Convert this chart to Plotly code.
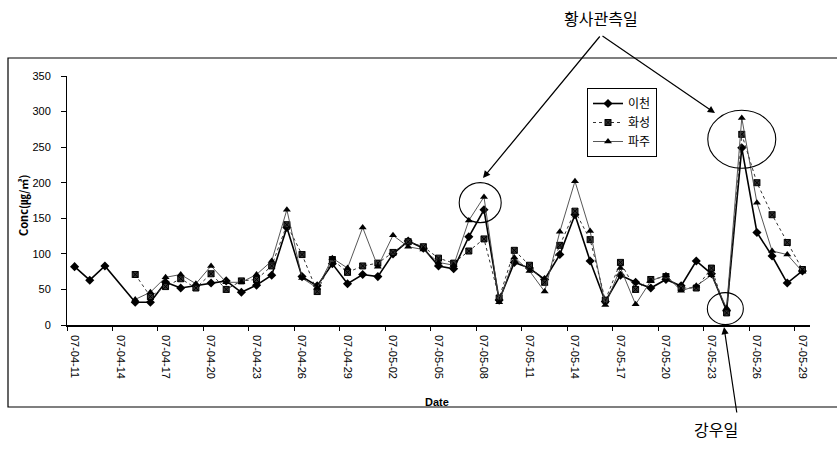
import plotly.graph_objects as go
import pandas as pd

# Daily PM concentrations at three sites (spring 2007)
dates = ["2007-04-11", "2007-04-12", "2007-04-13"] + [
    d.strftime("%Y-%m-%d") for d in pd.date_range("2007-04-15", "2007-05-29")
]

icheon = [82, 63, 83,
          32, 32, 60, 52, 55, 59, 62, 46, 56, 70, 137, 68, 55, 86, 58, 71, 68,
          100, 118, 108, 83, 79, 124, 162, 35, 88, 80, 64, 99, 155, 90, 33, 70,
          60, 52, 64, 55, 90, 72, 20, 249, 130, 97, 59, 76]
hwaseong = [None, None, None,
            71, 40, 54, 65, 52, 72, 50, 62, 64, 83, 141, 99, 47, 92, 74, 83, 87,
            102, 117, 110, 94, 87, 104, 121, 38, 105, 84, 60, 112, 160, 120, 35, 88,
            50, 64, 68, 52, 52, 80, 17, 268, 200, 155, 116, 78]
paju = [None, None, None,
        36, 46, 67, 71, 58, 83, 60, 60, 71, 90, 162, 66, 52, 94, 80, 137, 82,
        126, 110, 106, 88, 84, 147, 180, 32, 95, 76, 47, 131, 202, 132, 28, 80,
        29, 62, 70, 48, 55, 70, 24, 291, 172, 104, 99, 75]

tick_dates = [d.strftime("%Y-%m-%d") for d in pd.date_range("2007-04-11", "2007-05-29", freq="3D")]
y_ticks = [0, 50, 100, 150, 200, 250, 300, 350]

W, H = 837, 451
L, R, T, B = 67, 810, 76, 325  # plot area in pixels


def px(x):
    return (x - L) / (R - L)


def py(y):
    return (B - y) / (B - T)


fig = go.Figure()
fig.add_trace(go.Scatter(
    x=dates, y=icheon, name="이천", mode="lines+markers",
    line=dict(color="black", width=1.6),
    marker=dict(symbol="diamond", size=7, color="black"),
))
fig.add_trace(go.Scatter(
    x=dates, y=hwaseong, name="화성", mode="lines+markers",
    line=dict(color="#333333", width=1, dash="dot"),
    marker=dict(symbol="square-x", size=6, color="#333333",
                line=dict(color="black", width=1)),
))
fig.add_trace(go.Scatter(
    x=dates, y=paju, name="파주", mode="lines+markers",
    line=dict(color="#444444", width=0.9),
    marker=dict(symbol="triangle-up", size=7, color="black"),
))

font_lat = "Liberation Sans, Arial, sans-serif"
font_kr = "Noto Sans CJK KR, sans-serif"

shapes = [
    # outer chart frame
    dict(type="rect", xref="paper", yref="paper",
         x0=px(8), x1=px(845), y0=py(407), y1=py(58),
         line=dict(color="black", width=1.2), layer="below"),
]


def ellipse(date, val, rx, ry):
    return dict(type="circle", xref="x", yref="y",
                xsizemode="pixel", ysizemode="pixel",
                xanchor=date, yanchor=val,
                x0=-rx, x1=rx, y0=-ry, y1=ry,
                line=dict(color="black", width=1.1))


shapes += [
    ellipse("2007-05-07 18:00", 172, 21, 20),
    ellipse("2007-05-25", 261, 34, 29),
    ellipse("2007-05-23 22:00", 23, 18, 16),
]


def arrow(head, tail):
    # arrow drawn from tail (pixel position) to head (pixel position)
    return dict(text="", xref="paper", yref="paper", x=px(head[0]), y=py(head[1]),
                ax=tail[0] - head[0], ay=tail[1] - head[1],
                showarrow=True, arrowhead=2, arrowsize=1.2, arrowwidth=1.2,
                arrowcolor="black")


def label(text, x, y, family, size, angle=0):
    return dict(text=text, xref="paper", yref="paper", x=px(x), y=py(y),
                xanchor="center", yanchor="middle", textangle=angle,
                showarrow=False, font=dict(family=family, size=size, color="black"))


annotations = [
    label("황사관측일", 601, 18, font_kr, 16),
    arrow((483, 178), (601, 35)),
    arrow((715, 113), (601, 35)),
    label("강우일", 716, 429, font_kr, 16),
    arrow((724, 327), (737, 414)),
    label("<b>Conc(㎍/㎥)</b>", 23, 205, font_kr, 11, angle=-90),
    label("<b>Date</b>", 437, 402, font_lat, 11),
]

fig.update_layout(
    width=W, height=H,
    margin=dict(l=L, r=W - R, t=T, b=H - B),
    paper_bgcolor="white", plot_bgcolor="white",
    font=dict(family=font_lat, size=11, color="black"),
    shapes=shapes, annotations=annotations,
    legend=dict(x=px(587), y=py(88), xanchor="left", yanchor="top",
                bordercolor="black", borderwidth=1, bgcolor="white",
                font=dict(family=font_kr, size=12, color="black"),
                tracegroupgap=0, itemwidth=30),
    xaxis=dict(
        type="date", range=["2007-04-10 12:00", "2007-05-29 12:00"],
        tickmode="array", tickvals=tick_dates, tickformat="%y-%m-%d",
        tickangle=90, ticks="outside", ticklen=6, tickcolor="rgba(0,0,0,0)",
        minor=dict(tick0="2007-04-10 12:00", dtick=3 * 86400000,
                   ticks="outside", ticklen=4, tickcolor="black"),
        showline=True, linecolor="black", linewidth=1.5,
        showgrid=False, zeroline=False,
        tickfont=dict(family=font_lat, size=11),
    ),
    yaxis=dict(
        range=[0, 350], tickmode="array", tickvals=y_ticks,
        ticks="outside", ticklen=5, tickcolor="black",
        ticklabelstandoff=8,
        showline=True, linecolor="black", linewidth=1,
        showgrid=False, zeroline=False,
        tickfont=dict(family=font_lat, size=11),
    ),
)

fig.write_html("out.html")
